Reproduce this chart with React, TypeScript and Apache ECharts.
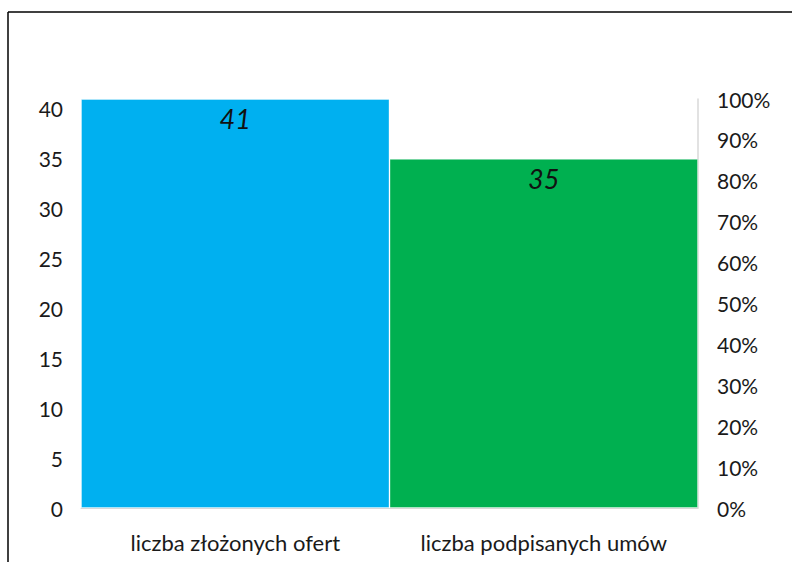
import React, { useEffect, useRef } from "react";
import * as echarts from "echarts";

const categories = ["liczba złożonych ofert", "liczba podpisanych umów"];
const values = [41, 35];
const barColors = ["#00B0F0", "#00B050"];
const leftTicks = [0, 5, 10, 15, 20, 25, 30, 35, 40];
const rightTicks = [0, 0.1, 0.2, 0.3, 0.4, 0.5, 0.6, 0.7, 0.8, 0.9, 1.0];

const FONT = "Lato";

export default function App() {
  const ref = useRef<HTMLDivElement>(null);
  useEffect(() => {
    if (!ref.current) return;
    const chart = echarts.init(ref.current, null, { renderer: "svg" });
    chart.setOption({
      animation: false,
      backgroundColor: "#ffffff",
      textStyle: { fontFamily: FONT },
      graphic: [
        { type: "line", shape: { x1: 8, y1: 12, x2: 792, y2: 12 }, style: { stroke: "#000", lineWidth: 1.5 } },
        { type: "line", shape: { x1: 8, y1: 12, x2: 8, y2: 562 }, style: { stroke: "#000", lineWidth: 1.5 } },
      ],
      grid: { left: 81, right: 94, top: 99, bottom: 54, containLabel: false },
      xAxis: {
        type: "category",
        data: categories,
        axisLine: { show: true, lineStyle: { color: "#d9d9d9", width: 1 } },
        axisTick: { show: false },
        axisLabel: { interval: 0, color: "#1a1a1a", fontSize: 22, fontFamily: FONT, margin: 23 },
      },
      yAxis: [
        {
          type: "value",
          min: 0,
          max: 41,
          interval: 5,
          axisLine: { show: false },
          axisTick: { show: false },
          splitLine: { show: false },
          axisLabel: {
            color: "#1a1a1a",
            fontSize: 21,
            fontFamily: FONT,
            margin: 18,
            formatter: (v: number) => (leftTicks.includes(v) ? String(v) : ""),
          },
        },
        {
          type: "value",
          min: 0,
          max: 1,
          interval: 0.1,
          position: "right",
          axisLine: { show: true, lineStyle: { color: "#d9d9d9", width: 1.5 } },
          axisTick: { show: false },
          splitLine: { show: false },
          axisLabel: {
            color: "#1a1a1a",
            fontSize: 21,
            fontFamily: FONT,
            margin: 19,
            formatter: (v: number) => {
              const r = rightTicks.find((t) => Math.abs(t - v) < 1e-9);
              return r === undefined ? "" : Math.round(r * 100) + "%";
            },
          },
        },
      ],
      series: [
        {
          type: "bar",
          yAxisIndex: 0,
          barWidth: "100%",
          barCategoryGap: "0%",
          data: values.map((v, i) => ({
            value: v,
            itemStyle: { color: barColors[i], borderColor: "rgba(255,255,255,0.35)", borderWidth: 1 },
          })),
          label: {
            show: true,
            position: "insideTop",
            distance: 6,
            fontSize: 27,
            fontStyle: "italic",
            fontFamily: FONT,
            color: "#111",
          },
        },
      ],
    });
    return () => chart.dispose();
  }, []);
  return (
    <div
      ref={ref}
      style={{ position: "absolute", left: 0, top: 0, width: 792, height: 562 }}
    />
  );
}
